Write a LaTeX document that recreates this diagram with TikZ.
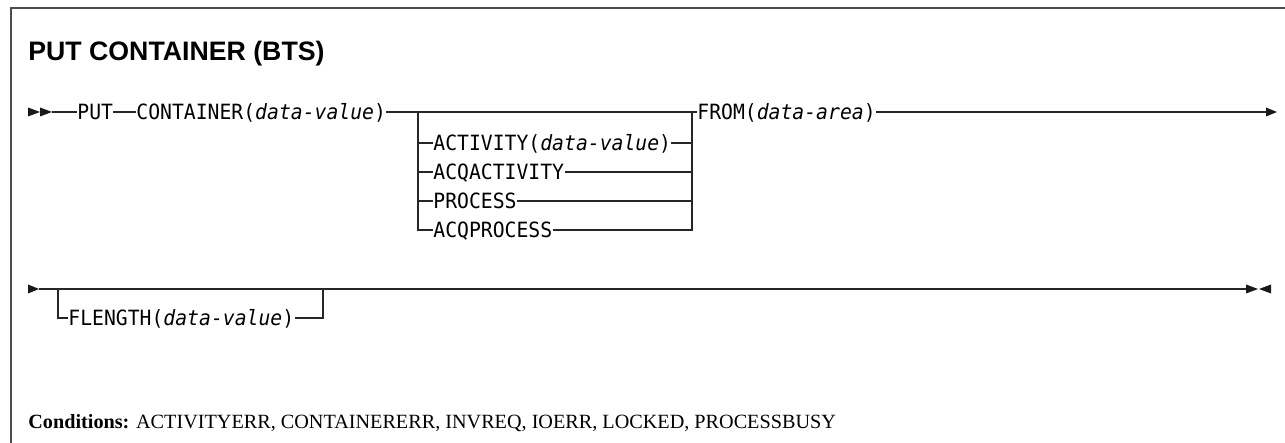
\documentclass[tikz,border=0pt]{standalone}
\usepackage{fontspec}
\setmainfont{Liberation Serif}
\newfontfamily\titlefont{Liberation Sans}
\newfontfamily\synfont[FakeStretch=0.94, ItalicFont={DejaVu Sans Mono Oblique}]{DejaVu Sans Mono}
\begin{document}
\begin{tikzpicture}[x=0.5pt, y=-0.5pt, line join=miter,
    syn/.style={font=\synfont\fontsize{10.5}{12}\selectfont, inner sep=0pt, text height=7.65pt, text depth=0pt, anchor=west},
    rail/.style={line width=0.75pt, black!85},
    tip/.style={fill=black!90}]
	\useasboundingbox (0,0) rectangle (1285,443);
	\draw[line width=0.75pt, black!70] (11,443) -- (11,8) -- (1285,8);
	\node[font=\titlefont\bfseries\fontsize{13.35}{15}\selectfont, anchor=base west, inner sep=0pt] (title) at (28,61) {PUT CONTAINER (BTS)};
	% first line
	\fill[tip] (28,107.5) -- (40,112) -- (28,116.5) -- cycle (40,107.5) -- (52,112) -- (40,116.5) -- cycle;
	\coordinate (s1) at (52,112);
	\coordinate (b0) at (418,112);
	\coordinate (e0) at (692,112);
	\coordinate (end1) at (1266,112);
	\node[syn] (put) at (77,112) {PUT};
	\node[syn] (cont) at (136,112) {CONTAINER(\textit{data-value})};
	\node[syn] (act) at (433,143) {ACTIVITY(\textit{data-value})};
	\node[syn] (acqact) at (433,172) {ACQACTIVITY};
	\node[syn] (proc) at (433,201) {PROCESS};
	\node[syn] (acqproc) at (433,230) {ACQPROCESS};
	\node[syn] (from) at (697,112) {FROM(\textit{data-area})};
	\draw[rail] (s1) -- (put) -- (cont) -- (from) -- (end1);
	\foreach \n in {act, acqact, proc, acqproc}
		\draw[rail] (b0) |- (\n) -| (e0);
	\fill[tip] (1266,107.5) -- (1277,112) -- (1266,116.5) -- cycle;
	% second line
	\fill[tip] (28,284.5) -- (39,289) -- (28,293.5) -- cycle;
	\coordinate (s2) at (39,289);
	\coordinate (f0) at (58,289);
	\coordinate (f1) at (323,289);
	\coordinate (end2) at (1246,289);
	\node[syn] (flen) at (68,318) {FLENGTH(\textit{data-value})};
	\draw[rail] (s2) -- (end2);
	\draw[rail] (f0) |- (flen) -| (f1);
	\fill[tip] (1246,284.5) -- (1258,289) -- (1246,293.5) -- cycle (1271,284.5) -- (1259,289) -- (1271,293.5) -- cycle;
	\node[anchor=base west, inner sep=0pt, font=\fontsize{10.1}{12}\selectfont] (cond) at (28,428) {\textbf{Conditions:} ACTIVITYERR, CONTAINERERR, INVREQ, IOERR, LOCKED, PROCESSBUSY};
\end{tikzpicture}
\end{document}
